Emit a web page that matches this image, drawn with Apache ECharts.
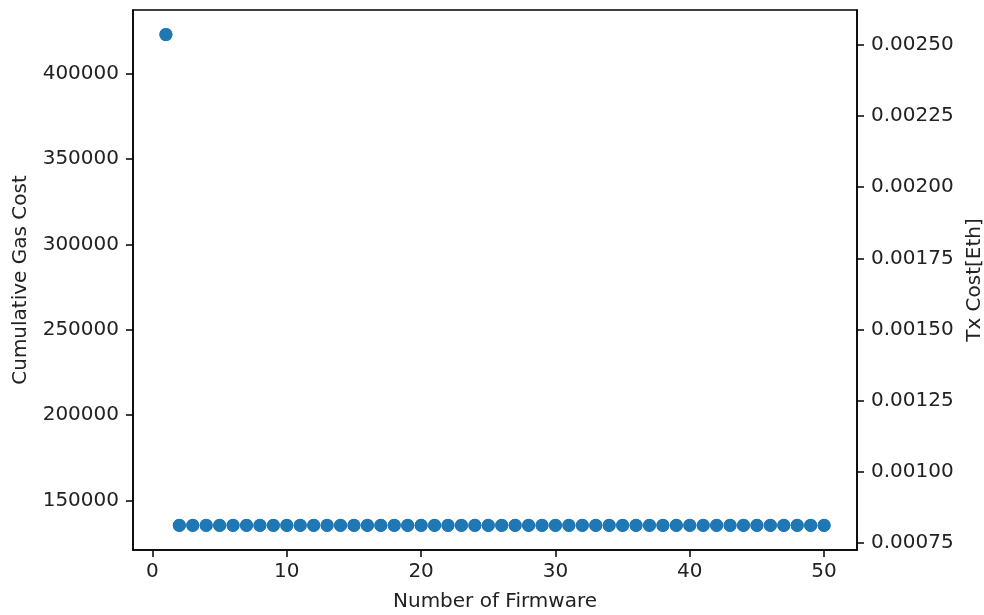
<!DOCTYPE html>
<html>
<head>
<meta charset="utf-8">
<script src="https://cdn.jsdelivr.net/npm/echarts@6/dist/echarts.min.js"></script>
<style>html,body{margin:0;padding:0;background:#fff}#c{width:984px;height:615px}</style>
</head>
<body>
<div id="c"></div>
<script>
const firmwareNumbers = [1,2,3,4,5,6,7,8,9,10,11,12,13,14,15,16,17,18,19,20,21,22,23,24,25,26,27,28,29,30,31,32,33,34,35,36,37,38,39,40,41,42,43,44,45,46,47,48,49,50];
const cumulativeGas = [422800,135400,135400,135400,135400,135400,135400,135400,135400,135400,135400,135400,135400,135400,135400,135400,135400,135400,135400,135400,135400,135400,135400,135400,135400,135400,135400,135400,135400,135400,135400,135400,135400,135400,135400,135400,135400,135400,135400,135400,135400,135400,135400,135400,135400,135400,135400,135400,135400,135400];
const txCostEth = [0.002537,0.000812,0.000812,0.000812,0.000812,0.000812,0.000812,0.000812,0.000812,0.000812,0.000812,0.000812,0.000812,0.000812,0.000812,0.000812,0.000812,0.000812,0.000812,0.000812,0.000812,0.000812,0.000812,0.000812,0.000812,0.000812,0.000812,0.000812,0.000812,0.000812,0.000812,0.000812,0.000812,0.000812,0.000812,0.000812,0.000812,0.000812,0.000812,0.000812,0.000812,0.000812,0.000812,0.000812,0.000812,0.000812,0.000812,0.000812,0.000812,0.000812];
const xTicks = [0,10,20,30,40,50];
const gasTicks = [150000,200000,250000,300000,350000,400000];
const costTicks = [0.00075,0.001,0.00125,0.0015,0.00175,0.002,0.00225,0.0025];

const font = 'DejaVu Sans';
const fs = 20;
const chart = echarts.init(document.getElementById('c'));
const axisCommon = {
  axisLine: {show: true, onZero: false, lineStyle: {color: '#000', width: 1.5}},
  axisTick: {show: true, length: 7, lineStyle: {color: '#000', width: 1.5}},
  splitLine: {show: false},
  nameTextStyle: {color: '#222', fontFamily: font, fontSize: fs},
};
chart.setOption({
  animation: false,
  grid: {left: 133, right: 127, top: 10, bottom: 65, show: true, borderColor: '#000', borderWidth: 1.5,
         backgroundColor: 'transparent', containLabel: false, outerBoundsMode: 'none'},
  xAxis: Object.assign({}, axisCommon, {
    type: 'value', min: -1.45, max: 52.45,
    name: 'Number of Firmware', nameLocation: 'middle', nameGap: 42,
    axisTick: Object.assign({}, axisCommon.axisTick, {customValues: xTicks}),
    axisLabel: {customValues: xTicks, color: '#222', fontFamily: font, fontSize: fs, margin: 12,
      formatter: v => String(v)}
  }),
  yAxis: [
    Object.assign({}, axisCommon, {
      type: 'value', min: 121030, max: 437170, position: 'left',
      name: 'Cumulative Gas Cost', nameLocation: 'middle', nameGap: 102, nameRotate: 90,
      axisTick: Object.assign({}, axisCommon.axisTick, {customValues: gasTicks}),
      axisLabel: {customValues: gasTicks, color: '#222', fontFamily: font, fontSize: fs, margin: 14,
        formatter: v => String(v)}
    }),
    Object.assign({}, axisCommon, {
      type: 'value', min: 0.000725, max: 0.002623, position: 'right',
      name: 'Tx Cost[Eth]', nameLocation: 'middle', nameGap: 98, nameRotate: 90,
      axisTick: Object.assign({}, axisCommon.axisTick, {customValues: costTicks}),
      axisLabel: {customValues: costTicks, color: '#222', fontFamily: font, fontSize: fs, margin: 14,
        formatter: v => v.toFixed(5)}
    })
  ],
  series: [
    {type: 'scatter', yAxisIndex: 0, symbolSize: 13, itemStyle: {color: '#1f77b4', opacity: 1},
     data: firmwareNumbers.map((x, i) => [x, cumulativeGas[i]])},
    {type: 'scatter', yAxisIndex: 1, symbolSize: 13, itemStyle: {color: '#1f77b4', opacity: 1},
     data: firmwareNumbers.map((x, i) => [x, txCostEth[i]])}
  ]
});
</script>
</body>
</html>
